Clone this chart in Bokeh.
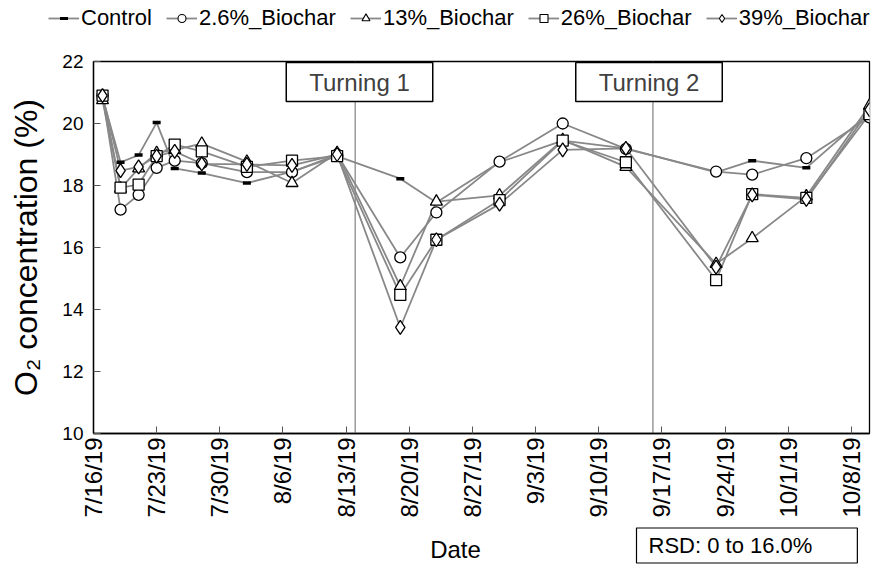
import math
import pandas as pd
from bokeh.plotting import figure
from bokeh.layouts import column, row
from bokeh.models import (ColumnDataSource, Range1d, FixedTicker, Span, Label,
                          Legend, LegendItem)
from bokeh.embed import file_html
from bokeh.resources import INLINE

# Sampling dates
dates = ["2019-07-17", "2019-07-19", "2019-07-21", "2019-07-23", "2019-07-25",
         "2019-07-28", "2019-08-02", "2019-08-07", "2019-08-12", "2019-08-19",
         "2019-08-23", "2019-08-30", "2019-09-06", "2019-09-13", "2019-09-23",
         "2019-09-27", "2019-10-03", "2019-10-10"]

# O2 concentration (%) per treatment
control = [20.85, 18.75, 18.98, 20.03, 18.55, 18.40, 18.08, 18.45, 18.95,
           18.22, 17.45, 18.75, 19.45, 19.20, 18.42, 18.80, 18.57, 20.35]
biochar_2_6 = [20.90, 17.22, 17.70, 18.57, 18.80, 18.72, 18.43, 18.43, 19.00,
               15.68, 17.13, 18.77, 20.00, 19.18, 18.45, 18.35, 18.88, 20.20]
biochar_13 = [20.75, 17.90, 18.55, 19.05, 19.15, 19.35, 18.77, 18.08, 19.05,
              14.75, 17.48, 17.68, 19.47, 18.60, 15.47, 16.30, 17.65, 20.58]
biochar_26 = [20.90, 17.93, 18.03, 18.95, 19.32, 19.10, 18.60, 18.80, 18.95,
              14.47, 16.25, 17.53, 19.45, 18.75, 14.95, 17.72, 17.60, 20.30]
biochar_39 = [20.90, 18.48, 18.60, 18.95, 19.10, 18.70, 18.68, 18.65, 19.00,
              13.42, 16.25, 17.40, 19.15, 19.20, 15.37, 17.70, 17.55, 20.45]

series_names = ["Control", "2.6%_Biochar", "13%_Biochar", "26%_Biochar", "39%_Biochar"]
series_values = [control, biochar_2_6, biochar_13, biochar_26, biochar_39]
series_markers = ["dash", "circle", "triangle", "square", "diamond"]

# Axis ticks
tick_dates = ["2019-07-16", "2019-07-23", "2019-07-30", "2019-08-06", "2019-08-13",
              "2019-08-20", "2019-08-27", "2019-09-03", "2019-09-10", "2019-09-17",
              "2019-09-24", "2019-10-01", "2019-10-08"]
tick_labels = ["7/16/19", "7/23/19", "7/30/19", "8/6/19", "8/13/19", "8/20/19",
               "8/27/19", "9/3/19", "9/10/19", "9/17/19", "9/24/19", "10/1/19",
               "10/8/19"]
y_ticks = [10, 12, 14, 16, 18, 20, 22]

# Compost turning events
turning_dates = ["2019-08-14", "2019-09-16"]
turning_labels = ["Turning 1", "Turning 2"]

FONT = "Liberation Sans"
LINE_COLOR = "#888888"
W = 885


def ms(d):
    return int(pd.Timestamp(d).value // 10**6)


def bare_strip(height):
    """A figure whose frame fills the whole canvas (used for the legend and footer)."""
    f = figure(width=W, height=height, x_range=Range1d(0, 1), y_range=Range1d(0, 1),
               output_backend="svg", toolbar_location=None,
               x_axis_location=None, y_axis_location=None,
               min_border=0, min_border_left=0, min_border_right=0,
               min_border_top=0, min_border_bottom=0)
    f.outline_line_color = None
    f.xgrid.visible = False
    f.ygrid.visible = False
    f.background_fill_color = "white"
    f.border_fill_color = "white"
    return f


x_dates = pd.to_datetime(dates)

# ---- main chart -------------------------------------------------------------
p = figure(width=W, height=482, x_axis_type="datetime",
           x_range=Range1d(ms("2019-07-16"), ms("2019-10-10")),
           y_range=Range1d(10, 22),
           output_backend="svg", toolbar_location=None,
           min_border_left=93, min_border_right=16,
           min_border_top=21, min_border_bottom=89)

p.background_fill_color = "white"
p.border_fill_color = "white"
p.outline_line_color = "black"
p.outline_line_width = 1.3
p.xgrid.visible = False
p.ygrid.visible = False

p.xaxis.ticker = FixedTicker(ticks=[ms(d) for d in tick_dates])
p.xaxis.major_label_overrides = {ms(d): lab for d, lab in zip(tick_dates, tick_labels)}
p.xaxis.major_label_orientation = math.pi / 2
p.xaxis.major_label_text_font = FONT
p.xaxis.major_label_text_font_size = "24px"
p.xaxis.major_label_text_color = "black"
p.xaxis.major_label_standoff = 4

p.yaxis.ticker = FixedTicker(ticks=y_ticks)
p.yaxis.major_label_text_font = FONT
p.yaxis.major_label_text_font_size = "19px"
p.yaxis.major_label_text_color = "black"
p.yaxis.major_label_standoff = 10
p.yaxis.axis_label = "O\u2082 concentration (%)"
p.yaxis.axis_label_text_font = FONT
p.yaxis.axis_label_text_font_size = "32px"
p.yaxis.axis_label_text_font_style = "normal"
p.yaxis.axis_label_text_color = "black"
p.yaxis.axis_label_standoff = 15

for ax in (p.xaxis, p.yaxis):
    ax.axis_line_color = "black"
    ax.axis_line_width = 1.3
    ax.major_tick_in = 7
    ax.major_tick_out = 0
    ax.major_tick_line_color = "#555555"
    ax.minor_tick_in = 0
    ax.minor_tick_out = 0

for d in turning_dates:
    p.add_layout(Span(location=ms(d), dimension="height", line_color="#808080",
                      line_width=1.2, level="underlay"))

sources = []
for vals in series_values:
    src = ColumnDataSource(dict(x=x_dates, y=vals))
    sources.append(src)
    p.line("x", "y", source=src, line_color=LINE_COLOR, line_width=1.8)

for src, marker in zip(sources, series_markers):
    if marker == "dash":
        p.scatter("x", "y", source=src, marker="dash", size=8,
                  line_color="black", line_width=3.5)
    else:
        size = {"circle": 11, "triangle": 12, "square": 11, "diamond": 14}[marker]
        p.scatter("x", "y", source=src, marker=marker, size=size,
                  fill_color="white", line_color="black", line_width=1.3)

# turning boxes hanging from the top edge of the frame
for xs, text in zip([266, 555.5], turning_labels):
    p.add_layout(Label(x=xs, y=351.5, x_units="screen", y_units="screen", text=text,
                       text_align="center", text_baseline="middle",
                       text_font=FONT, text_font_size="24px", text_color="#404040",
                       background_fill_color="white", border_line_color="black",
                       border_line_width=1.5, padding=(23, 23, 6, 6)))

# ---- legend strip -----------------------------------------------------------
top = bare_strip(40)
items = []
for name, marker in zip(series_names, series_markers):
    ln = top.line([-5, -4], [-5, -5], line_color=LINE_COLOR, line_width=1.8)
    if marker == "dash":
        mk = top.scatter([-5], [-5], marker="dash", size=6, line_color="black",
                         line_width=3)
    else:
        mk = top.scatter([-5], [-5], marker=marker,
                         size=8 if marker != "diamond" else 10,
                         fill_color="white", line_color="black", line_width=1.1)
    items.append(LegendItem(label=name, renderers=[ln, mk]))

legend = Legend(items=items, orientation="horizontal", location=(48, 9),
                glyph_width=31, glyph_height=20, label_standoff=2, spacing=14,
                padding=0, margin=0, border_line_color=None,
                background_fill_alpha=0,
                label_text_font=FONT, label_text_font_size="22px",
                label_text_color="black")
top.add_layout(legend)

# ---- footer strip: axis title and RSD note ----------------------------------
bottom = bare_strip(45)
bottom.add_layout(Label(x=455, y=18, x_units="screen", y_units="screen", text="Date",
                        text_align="center", text_baseline="middle",
                        text_font=FONT, text_font_size="24px", text_color="black"))
bottom.add_layout(Label(x=636, y=22, x_units="screen", y_units="screen",
                        text="RSD: 0 to 16.0%", text_align="left",
                        text_baseline="middle",
                        text_font=FONT, text_font_size="22px", text_color="black",
                        background_fill_color="white", border_line_color="black",
                        border_line_width=1.2, padding=(12, 45, 5, 5)))

# each strip sits in its own row so its frame keeps the full width
layout = column(row(top), p, row(bottom), spacing=0)
open("out.html", "w").write(file_html(layout, INLINE))
